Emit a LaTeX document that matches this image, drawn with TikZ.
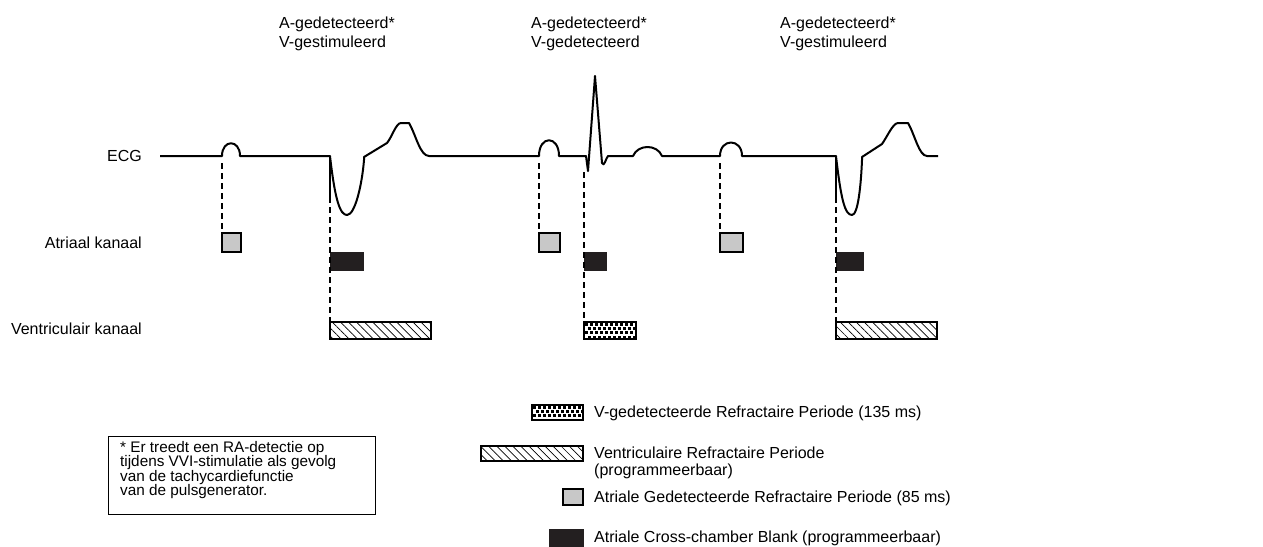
\documentclass[tikz,border=0pt]{standalone}
\usepackage{fontspec}
\setmainfont{Liberation Sans}
\usetikzlibrary{patterns.meta}
\definecolor{boxgray}{RGB}{200,200,200}
\definecolor{boxblack}{RGB}{35,31,32}
\newcommand\vdotbox[4]{%
  \begin{scope}
    \clip (#1,#2) rectangle (#3,#4);
    \fill[white] (#1,#2) rectangle (#3,#4);
    \foreach \i in {0,...,12} \foreach \j in {0,1,2,3} {
      \fill[black] ({#1+1+\i*5+mod(\j,2)*2.5},{#2+1+\j*4.2}) rectangle ++(3,3);
    }
  \end{scope}
  \draw[line width=1.4pt] (#1,#2) rectangle (#3,#4);}
\begin{document}
\begin{tikzpicture}[x=1pt,y=-1pt,
  lbl/.style={inner sep=0pt, anchor=base west, font=\fontsize{16}{19}\selectfont},
  lblr/.style={inner sep=0pt, anchor=base east, font=\fontsize{16}{19}\selectfont},
  notetxt/.style={inner sep=0pt, anchor=base west, font=\fontsize{15.3}{15}\selectfont},
  ecg/.style={line width=2pt, line join=round},
  guide/.style={line width=1.4pt, dash pattern=on 6pt off 4pt},
  spike/.style={line width=1.8pt},
  grayper/.style={draw, line width=1.3pt, fill=boxgray},
  blackper/.style={draw=boxblack, line width=1pt, fill=boxblack},
  hatchper/.style={draw, line width=1.3pt, fill=white, postaction={pattern={Lines[angle=-45,distance=5.7pt,line width=0.7pt]}}},
  notebox/.style={draw, line width=1pt}]
\useasboundingbox (0,0) rectangle (1263,546);

% top labels
\node[lbl] (l1a) at (279,28) {A-gedetecteerd*};
\node[lbl] (l1b) at (279,47) {V-gestimuleerd};
\node[lbl] (l2a) at (531,28) {A-gedetecteerd*};
\node[lbl] (l2b) at (531,47) {V-gedetecteerd};
\node[lbl] (l3a) at (780,28) {A-gedetecteerd*};
\node[lbl] (l3b) at (780,47) {V-gestimuleerd};

% channel labels
\node[lblr] (ecglbl) at (142,161) {ECG};
\node[lblr] (albl) at (142,248) {Atriaal kanaal};
\node[lblr] (vlbl) at (142,334) {Ventriculair kanaal};

% ECG trace
\draw[ecg] (160,156) -- (222,156)
  .. controls (222,139) and (240,139) .. (240,156)
  -- (330,156)
  .. controls (335,200) and (340,215) .. (347,215)
  .. controls (355,215) and (362,185) .. (364,160)
  -- (364,157) -- (387,143)
  .. controls (392,137) and (396,123) .. (401,123)
  -- (409,123)
  .. controls (416,135) and (420,156) .. (429,156)
  -- (539,156)
  .. controls (539,135) and (559,135) .. (559,156)
  -- (586,156) -- (588,171) -- (595,76) -- (602,163)
  .. controls (604,168) and (606,158) .. (608,156)
  -- (633,156)
  .. controls (638,144) and (657,144) .. (662,156)
  -- (720,156)
  .. controls (720,138) and (742,138) .. (742,156)
  -- (836,156)
  .. controls (841,200) and (845,215) .. (852,215)
  .. controls (858,215) and (861,185) .. (862,160)
  -- (862,157) -- (882,144)
  .. controls (887,137) and (893,123) .. (898,123)
  -- (908,123)
  .. controls (915,135) and (919,156) .. (927,156)
  -- (938,156);

% pacing spikes
\draw[spike] (330,156) -- (330,197);
\draw[spike] (836,156) -- (836,197);

% periods
\draw[grayper] (222,233) rectangle (241,252);
\draw[grayper] (539,233) rectangle (560,252);
\draw[grayper] (720,233) rectangle (743,252);
\draw[blackper] (330,252) rectangle (363,270);
\draw[blackper] (584,252) rectangle (606,270);
\draw[blackper] (836,252) rectangle (863,270);
\draw[hatchper] (330,322) rectangle (431,339);
\vdotbox{584}{322}{636}{339}
\draw[hatchper] (836,322) rectangle (937,339);

% guide lines
\draw[guide] (222,163) -- (222,233);
\draw[guide] (330,197) -- (330,322);
\draw[guide] (539,163) -- (539,233);
\draw[guide] (584,172) -- (584,322);
\draw[guide] (720,163) -- (720,233);
\draw[guide] (836,197) -- (836,322);

% note
\draw[notebox] (108,436) rectangle (375,514);
\node[notetxt] (n1) at (120,452) {* Er treedt een RA-detectie op};
\node[notetxt] (n2) at (120,466.5) {tijdens VVI-stimulatie als gevolg};
\node[notetxt] (n3) at (120,481) {van de tachycardiefunctie};
\node[notetxt] (n4) at (120,495.5) {van de pulsgenerator.};

% legend
\vdotbox{532}{405}{583}{420}
\node[lbl] (g1) at (594,417) {V-gedetecteerde Refractaire Periode (135 ms)};
\draw[hatchper] (481,446) rectangle (583,461);
\node[lbl] (g2a) at (594,458) {Ventriculaire Refractaire Periode};
\node[lbl] (g2b) at (594,475) {(programmeerbaar)};
\draw[grayper] (563,489) rectangle (583,505);
\node[lbl] (g3) at (594,502) {Atriale Gedetecteerde Refractaire Periode (85 ms)};
\draw[blackper] (549,529) rectangle (583,550);
\node[lbl] (g4) at (594,542) {Atriale Cross-chamber Blank (programmeerbaar)};
\end{tikzpicture}
\end{document}
